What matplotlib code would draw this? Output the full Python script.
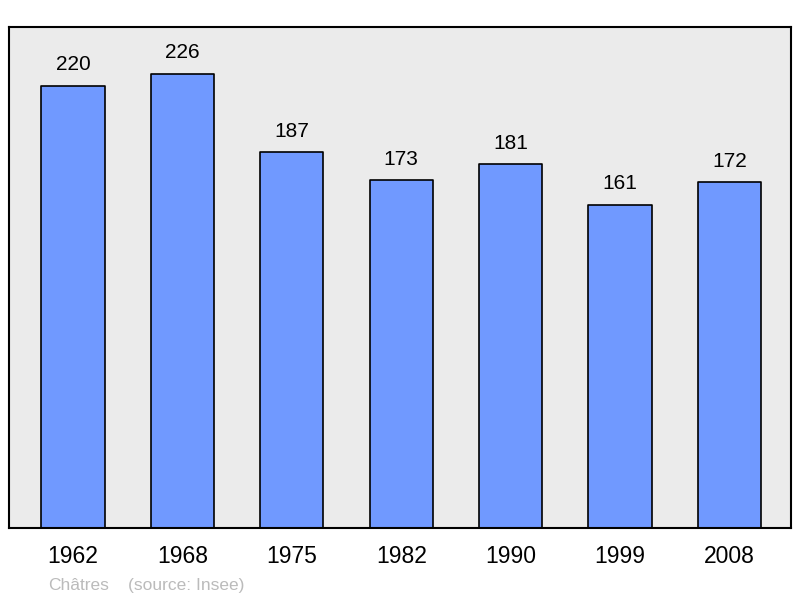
import matplotlib.pyplot as plt

years = ["1962", "1968", "1975", "1982", "1990", "1999", "2008"]
population = [220, 226, 187, 173, 181, 161, 172]

plt.rcParams['font.family'] = ['Liberation Sans', 'DejaVu Sans']

fig = plt.figure(figsize=(8, 5.98), dpi=100)
ax = fig.add_axes([9 / 800, 70 / 598, 782 / 800, 501 / 598])
ax.set_facecolor('#ebebeb')

x = range(len(years))
ax.bar(x, population, width=0.576, color='#7099ff', edgecolor='black',
       linewidth=1.2, joinstyle='round')
for xi, v in zip(x, population):
    ax.text(xi, v + 10.5, str(v), ha='center', va='center', fontsize=15)

ax.set_xlim(-0.585, 6.563)
ax.set_ylim(0, 249.4)
ax.set_xticks(list(x))
ax.set_xticklabels(years, fontsize=16.5)
ax.tick_params(axis='x', length=0, pad=12)
ax.set_yticks([])
for s in ax.spines.values():
    s.set_linewidth(1.5)

fig.text(48 / 800, 1 - 590 / 598, "Châtres", color='#bbbbbb',
         fontsize=12.5, va='baseline', ha='left')
fig.text(128 / 800, 1 - 590 / 598, "(source: Insee)", color='#bbbbbb',
         fontsize=12.5, va='baseline', ha='left')

fig.savefig('out.png', dpi=100)
